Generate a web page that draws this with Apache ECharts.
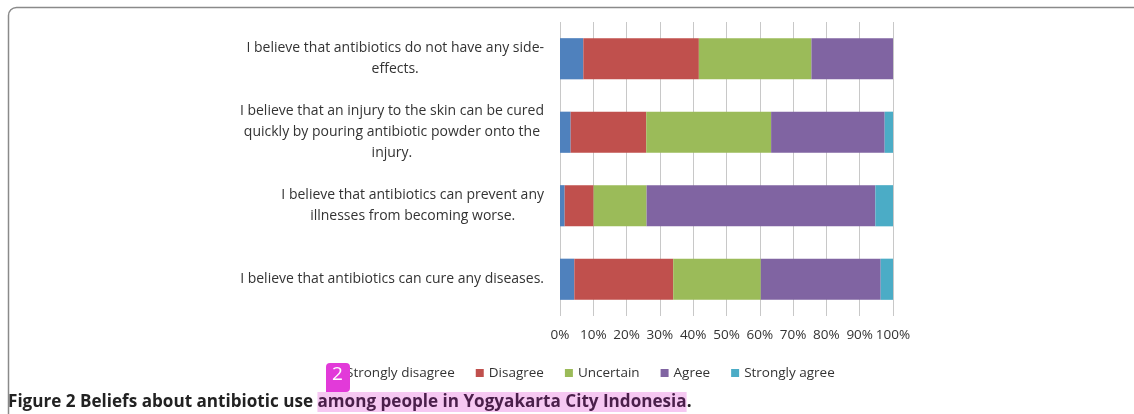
<!DOCTYPE html>
<html>
<head>
<meta charset="utf-8">
<script src="https://cdn.jsdelivr.net/npm/echarts@6/dist/echarts.min.js"></script>
<style>
html,body{margin:0;padding:0;background:#fff;}
#chart{width:1134px;height:414px;}
</style>
</head>
<body>
<div id="chart"></div>
<script>
// Categories (top to bottom), each given as wrapped lines
const categories = [
  ["I believe that antibiotics do not have any side-", "effects."],
  ["I believe that an injury to the skin can be cured", "quickly by pouring antibiotic powder onto the", "injury."],
  ["I believe that antibiotics can prevent any", "illnesses from becoming worse."],
  ["I believe that antibiotics can cure any diseases."]
];
const seriesNames = ["Strongly disagree", "Disagree", "Uncertain", "Agree", "Strongly agree"];
const stronglyDisagree = [7.0, 3.2, 1.4, 4.3];
const disagree         = [34.7, 22.7, 8.7, 29.7];
const uncertain        = [33.8, 37.5, 15.9, 26.3];
const agree            = [24.5, 34.1, 68.7, 36.0];
const stronglyAgree    = [0.0, 2.5, 5.3, 3.7];
const xTicks = [0, 10, 20, 30, 40, 50, 60, 70, 80, 90, 100];
const captionPlain = "Figure 2 Beliefs about antibiotic use ";
const captionHighlight = "among people in Yogyakarta City Indonesia";
const captionEnd = ".";

const colors = ["#4F81BD", "#C0504D", "#9BBB59", "#8064A2", "#4BACC6"];
const values = [stronglyDisagree, disagree, uncertain, agree, stronglyAgree];
const catKeys = categories.map((c, i) => "c" + i);

const chart = echarts.init(document.getElementById('chart'));
const FONT = "Open Sans";

const option = {
  animation: false,
  color: colors,
  grid: { left: 560, right: 241, top: 22, bottom: 98, containLabel: false },
  legend: {
    data: seriesNames,
    left: 328, top: 361, z: 2,
    itemWidth: 8, itemHeight: 8, itemGap: 21,
    icon: 'rect',
    textStyle: { fontFamily: FONT, fontSize: 13.5, color: '#333' }
  },
  xAxis: {
    type: 'value', min: 0, max: 100, interval: 10,
    axisLine: { show: false }, axisTick: { show: false },
    splitLine: { show: true, lineStyle: { color: '#c8c8c8', width: 1 } },
    axisLabel: {
      margin: 12,
      fontFamily: FONT, fontSize: 13.5, color: '#333',
      formatter: v => xTicks.indexOf(v) >= 0 ? v + '%' : ''
    }
  },
  yAxis: {
    type: 'category', inverse: true, data: catKeys,
    axisLine: { show: false }, axisTick: { show: false },
    axisLabel: {
      margin: 16, align: 'right',
      fontFamily: FONT, fontSize: 14, color: '#333', lineHeight: 21,
      formatter: (v, idx) => categories[idx].map(l => '{c|' + l + '}').join('\n'),
      rich: { c: { align: 'center', fontFamily: FONT, fontSize: 14, color: '#333', lineHeight: 21 } }
    }
  },
  series: seriesNames.map((n, i) => ({
    name: n, type: 'bar', stack: 'total', barCategoryGap: '44%',
    data: values[i], itemStyle: { color: colors[i] }
  })),
  graphic: {
    z: 50,
    elements: [
      { type: 'rect', shape: { x: 8.5, y: 7.5, width: 1200, height: 500, r: 8 },
        style: { fill: 'none', stroke: '#8a8a8a', lineWidth: 1.5 }, z: 1, silent: true },
      { type: 'text', left: 8, top: 392,
        style: { text: '{a|' + captionPlain + '}{b|' + captionHighlight + '}{a|' + captionEnd + '}',
          rich: {
            a: { fontFamily: FONT, fontWeight: 'bold', fontSize: 17.1, fill: '#222', height: 20, lineHeight: 20 },
            b: { fontFamily: FONT, fontWeight: 'bold', fontSize: 17.1, fill: '#4a1f4a', height: 20, lineHeight: 20,
                 backgroundColor: '#f6c8f2' }
          } }, z: 2 },
      { type: 'rect', shape: { x: 326, y: 363, width: 24, height: 29, r: [4,4,4,0] },
        style: { fill: '#e23ad9' }, z: 100 },
      { type: 'text', left: 332, top: 365,
        style: { text: '2', fontFamily: FONT, fontSize: 19, fill: '#fff' }, z: 101 }
    ]
  }
};
chart.setOption(option);
</script>
</body>
</html>
